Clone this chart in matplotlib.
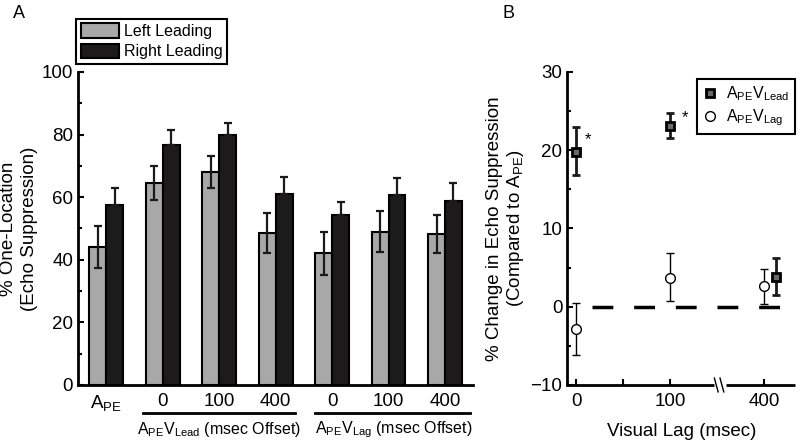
import numpy as np
import matplotlib
matplotlib.use("Agg")
import matplotlib.pyplot as plt
from matplotlib.patches import Patch
from matplotlib.lines import Line2D

plt.rcParams['font.family'] = ['Liberation Sans', 'DejaVu Sans']
plt.rcParams['mathtext.fontset'] = 'custom'
plt.rcParams['mathtext.rm'] = 'Liberation Sans'
plt.rcParams['mathtext.it'] = 'Liberation Sans'
plt.rcParams['font.size'] = 13.5

# Panel A: % one-location responses per condition
cond_labels = [r'A$_{\rm PE}$', '0', '100', '400', '0', '100', '400']
left_mean = [44.2, 64.5, 68.0, 48.6, 42.0, 49.0, 48.2]
left_err = [6.7, 5.3, 5.0, 6.4, 7.0, 6.6, 6.2]
right_mean = [57.5, 76.7, 80.0, 61.0, 54.2, 60.6, 58.8]
right_err = [5.5, 4.8, 3.7, 5.3, 4.2, 5.4, 5.7]
group_names = [r'A$_{\rm PE}$V$_{\rm Lead}$ (msec Offset)',
               r'A$_{\rm PE}$V$_{\rm Lag}$ (msec Offset)']

# Panel B: change relative to A_PE
lag_labels = ['0', '100', '400']
lead_change = [19.8, 23.1, 3.8]
lead_lo = [16.8, 21.5, 1.5]
lead_hi = [22.9, 24.8, 6.2]
lag_change = [-2.8, 3.7, 2.6]
lag_lo = [-6.2, 0.7, 0.4]
lag_hi = [0.5, 6.8, 4.8]

fig = plt.figure(figsize=(8, 4.41), dpi=100)
axA = fig.add_axes([0.0975, 0.127, 0.494, 0.710])
axB = fig.add_axes([0.709, 0.127, 0.285, 0.710])

# ---- Panel A ----
x = np.arange(len(cond_labels))
w = 0.3
axA.bar(x - w / 2, left_mean, w, color='#a8a8a8', edgecolor='black', linewidth=1.5,
        yerr=left_err, error_kw=dict(ecolor='#1a1a1a', elinewidth=1.6, capsize=3, capthick=1.6))
axA.bar(x + w / 2, right_mean, w, color='#1c1a1b', edgecolor='black', linewidth=1.5,
        yerr=[np.zeros(len(right_err)), right_err],
        error_kw=dict(ecolor='#1a1a1a', elinewidth=1.6, capsize=3, capthick=1.6))
axA.set_xlim(-0.5, 6.5)
axA.set_ylim(0, 100)
axA.set_yticks(np.arange(0, 101, 20))
axA.set_yticks(np.arange(10, 100, 20), minor=True)
axA.set_xticks(x)
axA.set_xticklabels(cond_labels)
axA.tick_params(axis='x', length=0, pad=6)
axA.tick_params(axis='y', which='both', direction='in', width=1.5)
axA.tick_params(axis='y', which='major', length=4)
axA.tick_params(axis='y', which='minor', length=3)
for s in ['top', 'right']:
    axA.spines[s].set_visible(False)
for s in ['left', 'bottom']:
    axA.spines[s].set_linewidth(2)
axA.set_ylabel('% One-Location\n(Echo Suppression)', linespacing=1.25, labelpad=3)

trans = axA.get_xaxis_transform()
axA.plot([0.65, 3.35], [-0.09, -0.09], color='black', lw=2, transform=trans, clip_on=False)
axA.plot([3.70, 6.45], [-0.09, -0.09], color='black', lw=2, transform=trans, clip_on=False)
axA.text(2.0, -0.143, group_names[0], transform=trans, ha='center', va='center', fontsize=11.5)
axA.text(5.1, -0.143, group_names[1], transform=trans, ha='center', va='center', fontsize=11.5)

legA = axA.legend([Patch(facecolor='#a8a8a8', edgecolor='black', linewidth=1.5),
                   Patch(facecolor='#1c1a1b', edgecolor='black', linewidth=1.5)],
                  ['Left Leading', 'Right Leading'], loc='upper left',
                  bbox_to_anchor=(-0.005, 1.17), fancybox=False, framealpha=1,
                  edgecolor='black', handlelength=2.4, handleheight=1.0,
                  handletextpad=0.3, borderpad=0.3, labelspacing=0.3,
                  borderaxespad=0, fontsize=11.5)
legA.get_frame().set_linewidth(1.5)

# ---- Panel B ----
pos = np.arange(len(lag_labels))
lead_x = pos + np.array([0, 0, 0.13])
lag_x = pos.astype(float)
axB.plot([0.17, 2.33], [0, 0], color='black', lw=2.5, dashes=(6, 6))
axB.errorbar(lag_x, lag_change,
             yerr=[np.array(lag_change) - np.array(lag_lo), np.array(lag_hi) - np.array(lag_change)],
             fmt='o', ms=7, mfc='white', mec='black', mew=1, ecolor='black',
             elinewidth=1, capsize=3, capthick=1)
axB.errorbar(lead_x, lead_change,
             yerr=[np.array(lead_change) - np.array(lead_lo), np.array(lead_hi) - np.array(lead_change)],
             fmt='s', ms=6, mfc='#6a6a6a', mec='black', mew=2, ecolor='#1a1a1a',
             elinewidth=2, capsize=3, capthick=2)
axB.text(0.09, 21.3, '*', ha='left', va='center', fontsize=12)
axB.text(1.12, 24.2, '*', ha='left', va='center', fontsize=12)

axB.set_xlim(-0.096, 2.33)
axB.set_ylim(-10, 30)
axB.set_yticks(np.arange(-10, 31, 10))
axB.set_yticks(np.arange(-5, 30, 10), minor=True)
axB.set_xticks([0, 0.5, 1, 2])
axB.set_xticklabels(['0', '', '100', '400'])
axB.tick_params(which='both', direction='in', width=1.5)
axB.tick_params(which='major', length=4)
axB.tick_params(which='minor', length=3)
axB.tick_params(axis='x', pad=6)
for s in ['top', 'right', 'bottom']:
    axB.spines[s].set_visible(False)
axB.spines['left'].set_linewidth(2)
tb = axB.get_xaxis_transform()
axB.plot([-0.096, 1.47], [0, 0], color='black', lw=2, transform=tb, clip_on=False,
         solid_capstyle='butt')
axB.plot([1.59, 2.33], [0, 0], color='black', lw=2, transform=tb, clip_on=False,
         solid_capstyle='butt')
for bx in [1.49, 1.55]:
    axB.plot([bx - 0.02, bx + 0.02], [0.022, -0.022], color='black', lw=1,
             transform=tb, clip_on=False)
axB.set_xlabel('Visual Lag (msec)', labelpad=9)
axB.set_ylabel('% Change in Echo Suppression\n' + r'(Compared to A$_{\rm PE}$)',
               linespacing=1.15, labelpad=3)

legB = axB.legend([Line2D([], [], ls='none', marker='s', ms=6, mfc='#6a6a6a', mec='black', mew=2),
                   Line2D([], [], ls='none', marker='o', ms=7, mfc='white', mec='black', mew=1)],
                  [r'A$_{\rm PE}$V$_{\rm Lead}$', r'A$_{\rm PE}$V$_{\rm Lag}$'],
                  loc='upper right', bbox_to_anchor=(1.0, 0.978), fancybox=False,
                  framealpha=1, edgecolor='black', handlelength=1.0,
                  handletextpad=0.5, borderpad=0.35, labelspacing=0.3,
                  borderaxespad=0, fontsize=11.5)
legB.get_frame().set_linewidth(1.5)

fig.text(0.016, 0.97, 'A', fontsize=13, va='center')
fig.text(0.628, 0.97, 'B', fontsize=13, va='center')

fig.savefig('out.png', dpi=100)
